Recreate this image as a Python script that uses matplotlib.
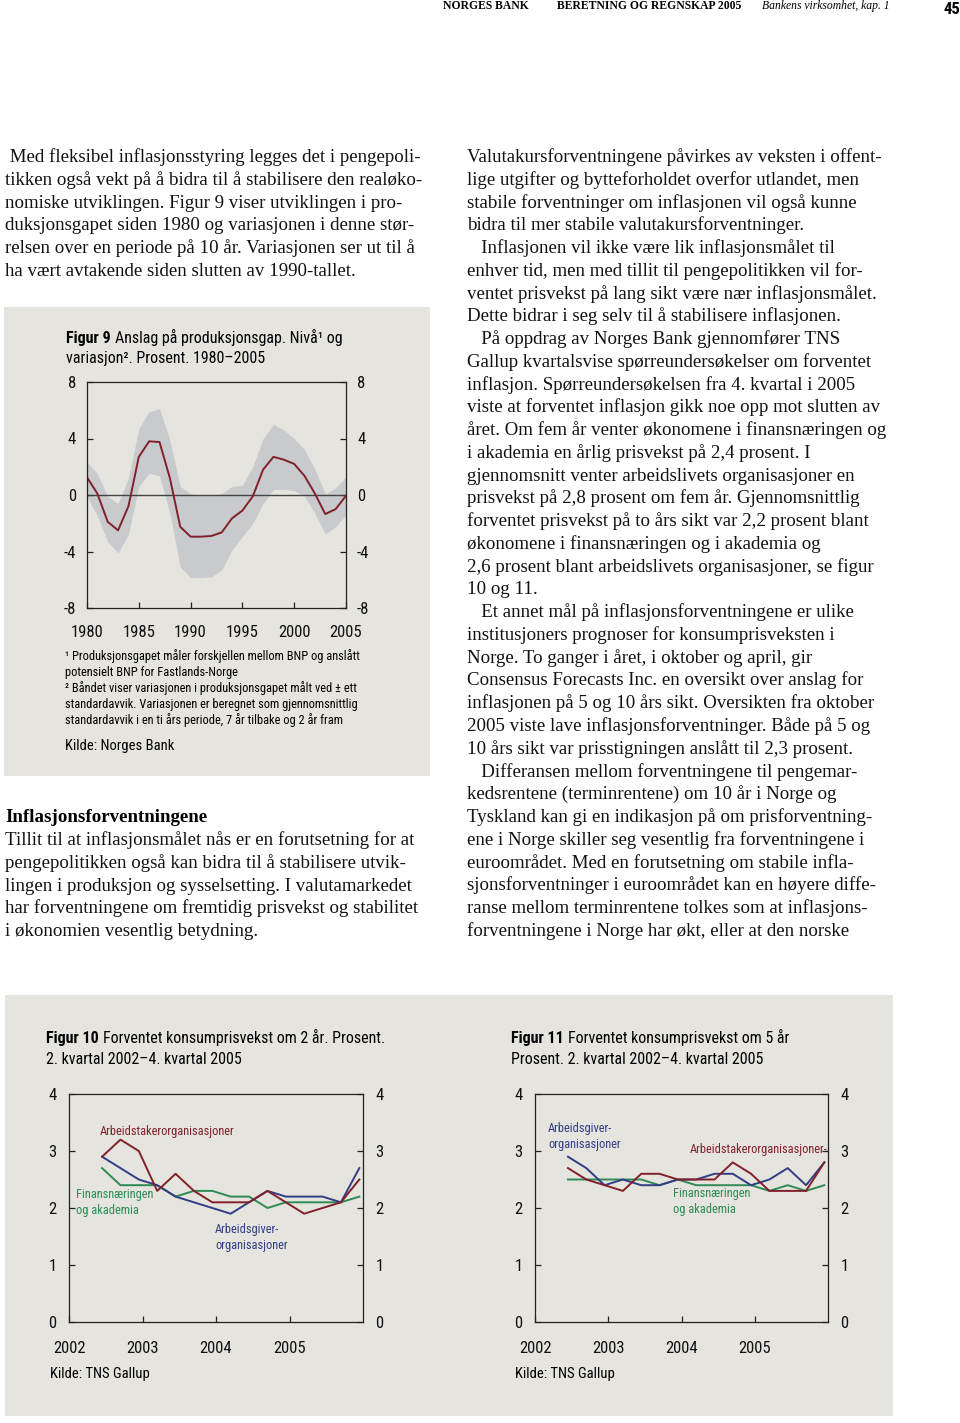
import matplotlib
matplotlib.use('Agg')
import matplotlib.pyplot as plt
from matplotlib import font_manager
from matplotlib.patches import Rectangle

W, H = 960, 1423

# Figur 9: produksjonsgap, nivå og bånd (+/- ett standardavvik)
gap_years = list(range(1980, 2006))
gap_level = [1.25, 0.1, -1.9, -2.5, -0.8, 2.7, 3.8, 3.75, 1.2, -2.25, -2.95, -2.95, -2.9,
             -2.65, -1.65, -1.1, -0.1, 1.8, 2.7, 2.5, 2.2, 1.35, 0.1, -1.35, -1.0, -0.05]
gap_upper = [2.35, 1.5, -0.1, -0.6, 1.2, 4.7, 5.9, 6.1, 3.9, 0.6, 0.1, 0.0, 0.0,
             0.1, 0.6, 0.7, 2.0, 4.0, 5.0, 4.6, 4.0, 3.2, 1.8, 0.1, 0.5, 1.3]
gap_lower = [-0.1, -1.5, -3.3, -4.1, -2.8, 0.6, 1.55, 1.35, -1.3, -5.1, -5.85, -5.85, -5.8,
             -5.3, -3.9, -2.95, -2.0, -0.6, 0.4, 0.4, 0.3, -0.1, -1.3, -2.75, -2.25, -1.4]

# Figur 10 og 11: kvartalsvise svar, 2. kv. 2002 - 4. kv. 2005
quarters = ['2002K2', '2002K3', '2002K4',
            '2003K1', '2003K2', '2003K3', '2003K4',
            '2004K1', '2004K2', '2004K3', '2004K4',
            '2005K1', '2005K2', '2005K3', '2005K4']
f10_arbeidstaker = [2.9, 3.2, 3.0, 2.3, 2.6, 2.3, 2.1, 2.1, 2.1, 2.3, 2.1, 1.9, 2.0, 2.1, 2.5]
f10_arbeidsgiver = [2.9, 2.7, 2.5, 2.4, 2.2, 2.1, 2.0, 1.9, 2.1, 2.3, 2.2, 2.2, 2.2, 2.1, 2.7]
f10_finans = [2.7, 2.4, 2.4, 2.4, 2.2, 2.3, 2.3, 2.2, 2.2, 2.0, 2.1, 2.1, 2.1, 2.1, 2.2]

f11_arbeidstaker = [2.7, 2.5, 2.4, 2.3, 2.6, 2.6, 2.5, 2.5, 2.5, 2.8, 2.6, 2.3, 2.3, 2.3, 2.8]
f11_arbeidsgiver = [2.9, 2.7, 2.4, 2.5, 2.4, 2.4, 2.5, 2.5, 2.6, 2.6, 2.4, 2.5, 2.7, 2.4, 2.8]
f11_finans = [2.5, 2.5, 2.5, 2.5, 2.5, 2.4, 2.5, 2.4, 2.4, 2.4, 2.4, 2.3, 2.4, 2.3, 2.4]

year_ticks = [2002, 2003, 2004, 2005]

left_text = [
    ' Med fleksibel inflasjonsstyring legges det i pengepoli-',
    'tikken også vekt på å bidra til å stabilisere den realøko-',
    'nomiske utviklingen. Figur 9 viser utviklingen i pro-',
    'duksjonsgapet siden 1980 og variasjonen i denne stør-',
    'relsen over en periode på 10 år. Variasjonen ser ut til å',
    'ha vært avtakende siden slutten av 1990-tallet.',
]
left_text2 = [
    'Tillit til at inflasjonsmålet nås er en forutsetning for at',
    'pengepolitikken også kan bidra til å stabilisere utvik-',
    'lingen i produksjon og sysselsetting. I valutamarkedet',
    'har forventningene om fremtidig prisvekst og stabilitet',
    'i økonomien vesentlig betydning.',
]
right_text = [
    'Valutakursforventningene påvirkes av veksten i offent-',
    'lige utgifter og bytteforholdet overfor utlandet, men',
    'stabile forventninger om inflasjonen vil også kunne',
    'bidra til mer stabile valutakursforventninger.',
    '   Inflasjonen vil ikke være lik inflasjonsmålet til',
    'enhver tid, men med tillit til pengepolitikken vil for-',
    'ventet prisvekst på lang sikt være nær inflasjonsmålet.',
    'Dette bidrar i seg selv til å stabilisere inflasjonen.',
    '   På oppdrag av Norges Bank gjennomfører TNS',
    'Gallup kvartalsvise spørreundersøkelser om forventet',
    'inflasjon. Spørreundersøkelsen fra 4. kvartal i 2005',
    'viste at forventet inflasjon gikk noe opp mot slutten av',
    'året. Om fem år venter økonomene i finansnæringen og',
    'i akademia en årlig prisvekst på 2,4 prosent. I',
    'gjennomsnitt venter arbeidslivets organisasjoner en',
    'prisvekst på 2,8 prosent om fem år. Gjennomsnittlig',
    'forventet prisvekst på to års sikt var 2,2 prosent blant',
    'økonomene i finansnæringen og i akademia og',
    '2,6 prosent blant arbeidslivets organisasjoner, se figur',
    '10 og 11.',
    '   Et annet mål på inflasjonsforventningene er ulike',
    'institusjoners prognoser for konsumprisveksten i',
    'Norge. To ganger i året, i oktober og april, gir',
    'Consensus Forecasts Inc. en oversikt over anslag for',
    'inflasjonen på 5 og 10 års sikt. Oversikten fra oktober',
    '2005 viste lave inflasjonsforventninger. Både på 5 og',
    '10 års sikt var prisstigningen anslått til 2,3 prosent.',
    '   Differansen mellom forventningene til pengemar-',
    'kedsrentene (terminrentene) om 10 år i Norge og',
    'Tyskland kan gi en indikasjon på om prisforventning-',
    'ene i Norge skiller seg vesentlig fra forventningene i',
    'euroområdet. Med en forutsetning om stabile infla-',
    'sjonsforventninger i euroområdet kan en høyere diffe-',
    'ranse mellom terminrentene tolkes som at inflasjons-',
    'forventningene i Norge har økt, eller at den norske',
]
fig9_notes = [
    '¹ Produksjonsgapet måler forskjellen mellom BNP og anslått',
    'potensielt BNP for Fastlands-Norge',
    '² Båndet viser variasjonen i produksjonsgapet målt ved ± ett',
    'standardavvik. Variasjonen er beregnet som gjennomsnittlig',
    'standardavvik i en ti års periode, 7 år tilbake og 2 år fram',
]

# chart text in the original is a condensed grotesk; use a narrow face if there is one
installed = {f.name for f in font_manager.fontManager.ttflist}
narrow = [n for n in ['Liberation Sans Narrow', 'Roboto Condensed', 'Open Sans Condensed',
                      'Arial Narrow', 'Nimbus Sans Narrow'] if n in installed]
SANS = narrow[:1] + ['Liberation Sans', 'DejaVu Sans']
k = 1.0 if narrow else 0.82   # shrink regular width fonts to the same text widths

SERIF = ['Liberation Serif', 'DejaVu Serif']
BOX = '#e5e4de'
BAND = '#c9cacd'
RED = '#82202a'
BLUE = '#323d85'
GREEN = '#2f8a55'

plt.rcParams['axes.unicode_minus'] = False

fig = plt.figure(figsize=(W / 100, H / 100), dpi=100)
fig.patch.set_facecolor('white')
renderer = fig.canvas.get_renderer()


def put(x, y, s, **kw):
    # x, y in pixels from top-left, y is the baseline
    kw.setdefault('va', 'baseline')
    return fig.text(x / W, 1 - y / H, s, **kw)


def put_title(x, y, bold, rest, size):
    t = put(x, y, bold, family=SANS, fontsize=size, fontweight='bold')
    x1 = t.get_window_extent(renderer).x1
    put(x1 + 4, y, rest, family=SANS, fontsize=size)


def axes_px(x0, y0, x1, y1):
    return fig.add_axes([x0 / W, 1 - y1 / H, (x1 - x0) / W, (y1 - y0) / H])


def box_px(x0, y0, x1, y1):
    fig.add_artist(Rectangle((x0 / W, 1 - y1 / H), (x1 - x0) / W, (y1 - y0) / H,
                             transform=fig.transFigure, facecolor=BOX, edgecolor='none', zorder=0))


def style_ticks(ax, xpad, ypad):
    tick_kw = dict(direction='in', length=4, width=0.9, colors='#222222',
                   labelcolor='#111111', labelsize=12 * k)
    ax.tick_params(axis='y', left=True, right=True, labelleft=True, labelright=True,
                   pad=ypad, **tick_kw)
    ax.tick_params(axis='x', pad=xpad, **tick_kw)
    for lab in ax.get_xticklabels() + ax.get_yticklabels():
        lab.set_family(SANS)
    for sp in ax.spines.values():
        sp.set_linewidth(0.9)
        sp.set_color('#222222')


# header
put(443, 9, 'NORGES BANK', family=SERIF, fontsize=8.4, fontweight='bold')
put(557, 9, 'BERETNING OG REGNSKAP 2005', family=SERIF, fontsize=8.4, fontweight='bold')
put(762, 9, 'Bankens virksomhet, kap. 1', family=SERIF, fontsize=8.4, style='italic')
put(944, 14, '45', family=SANS, fontsize=12 * k, fontweight='bold')

# body text
body = dict(family=SERIF, fontsize=13.6, color='#111111')
step = 22.76
for i, line in enumerate(left_text):
    put(5, 162 + i * step, line, **body)
put(5, 822, 'Inflasjonsforventningene', family=SERIF, fontsize=13.6, fontweight='bold')
for i, line in enumerate(left_text2):
    put(5, 845 + i * step, line, **body)
for i, line in enumerate(right_text):
    put(467, 162 + i * step, line, **body)

# grey boxes
box_px(4, 307, 430, 776)
box_px(5, 995, 893, 1416)

# ---- Figur 9 ----
put_title(66, 343, 'Figur 9', 'Anslag på produksjonsgap. Nivå¹ og', 11.5 * k)
put(66, 363, 'variasjon². Prosent. 1980–2005', family=SANS, fontsize=11.5 * k)

ax9 = axes_px(87, 382, 346, 608)
ax9.set_facecolor(BOX)
ax9.fill_between(gap_years, gap_lower, gap_upper, color=BAND, linewidth=0)
ax9.axhline(0, color='#444444', linewidth=1.0)
ax9.plot(gap_years, gap_level, color=RED, linewidth=1.4)
ax9.set_xlim(1980, 2005)
ax9.set_ylim(-8, 8)
ax9.set_xticks([1980, 1985, 1990, 1995, 2000, 2005])
ax9.set_yticks([-8, -4, 0, 4, 8])
style_ticks(ax9, xpad=12, ypad=8)

for i, line in enumerate(fig9_notes):
    put(65, 660 + i * 16, line, family=SANS, fontsize=8.9 * k)
put(65, 750, 'Kilde: Norges Bank', family=SANS, fontsize=10.5 * k)


# ---- Figur 10 og 11 ----
def qpos(q):
    return int(q[:4]) + (int(q[-1]) - 0.2) / 4


xq = [qpos(q) for q in quarters]


def survey_axes(x0, x1, taker, giver, finans):
    ax = axes_px(x0, 1094, x1, 1322)
    ax.set_facecolor(BOX)
    ax.plot(xq, finans, color=GREEN, linewidth=1.4)
    ax.plot(xq, giver, color=BLUE, linewidth=1.4)
    ax.plot(xq, taker, color=RED, linewidth=1.4)
    ax.set_xlim(2002, 2006)
    ax.set_ylim(0, 4)
    ax.set_yticks([0, 1, 2, 3, 4])
    ax.set_xticks(year_ticks)
    ax.set_xticklabels([str(y) for y in year_ticks])
    style_ticks(ax, xpad=14, ypad=9)
    return ax


survey_axes(69, 363, f10_arbeidstaker, f10_arbeidsgiver, f10_finans)
survey_axes(535, 828, f11_arbeidstaker, f11_arbeidsgiver, f11_finans)

put_title(46, 1043, 'Figur 10', 'Forventet konsumprisvekst om 2 år. Prosent.', 11.5 * k)
put(46, 1064, '2. kvartal 2002–4. kvartal 2005', family=SANS, fontsize=11.5 * k)
put_title(511, 1043, 'Figur 11', 'Forventet konsumprisvekst om 5 år', 11.5 * k)
put(511, 1064, 'Prosent. 2. kvartal 2002–4. kvartal 2005', family=SANS, fontsize=11.5 * k)

lab = dict(family=SANS, fontsize=8.9 * k)
put(100, 1135, 'Arbeidstakerorganisasjoner', color=RED, **lab)
put(76, 1198, 'Finansnæringen', color=GREEN, **lab)
put(76, 1214, 'og akademia', color=GREEN, **lab)
put(215, 1233, 'Arbeidsgiver-', color=BLUE, **lab)
put(215, 1249, 'organisasjoner', color=BLUE, **lab)

put(548, 1132, 'Arbeidsgiver-', color=BLUE, **lab)
put(548, 1148, 'organisasjoner', color=BLUE, **lab)
put(690, 1153, 'Arbeidstakerorganisasjoner-', color=RED, **lab)
put(673, 1197, 'Finansnæringen', color=GREEN, **lab)
put(673, 1213, 'og akademia', color=GREEN, **lab)

put(50, 1378, 'Kilde: TNS Gallup', family=SANS, fontsize=10.5 * k)
put(515, 1378, 'Kilde: TNS Gallup', family=SANS, fontsize=10.5 * k)

fig.savefig('out.png', dpi=100, facecolor='white')
